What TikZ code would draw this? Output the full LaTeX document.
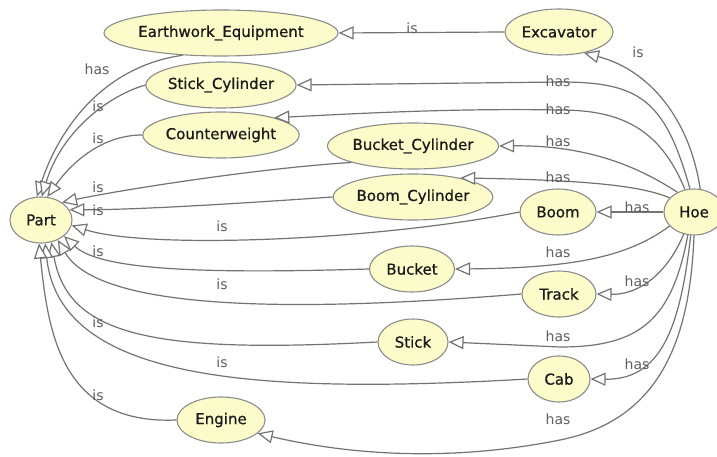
\documentclass[tikz,border=0pt]{standalone}
\usepackage{fontspec}
\setmainfont{DejaVu Sans}
\newfontfamily\clsfont[FakeBold=0.7]{DejaVu Sans}
\usetikzlibrary{arrows.meta,shapes.geometric}

\definecolor{classfill}{RGB}{252,252,202}
\definecolor{classline}{RGB}{140,140,140}
\definecolor{edgeline}{RGB}{115,115,115}
\definecolor{edgetext}{RGB}{95,95,95}

\tikzset{
  cls/.style={ellipse, draw=classline, line width=1.1pt, fill=classfill,
    inner sep=0pt, minimum height=46pt, text=black!90,
    font=\clsfont\fontsize{15pt}{17pt}\selectfont},
  rel/.style={draw=edgeline, line width=1.2pt,
    -{Triangle[length=15pt,width=13pt,fill=white]}},
  lbl/.style={text=edgetext, inner sep=0pt,
    font=\fontsize{14pt}{16pt}\selectfont},
}

\begin{document}
\begin{tikzpicture}[x=1pt,y=-1pt]
\useasboundingbox[fill=white] (0,0) rectangle (717,457);

% classes
\node[cls, minimum width=197pt] (ee)   at (221,33)  {Earthwork\_Equipment};
\node[cls, minimum width=108pt] (exc)  at (559,32)  {Excavator};
\node[cls, minimum width=142pt] (sc)   at (221,85)  {Stick\_Cylinder};
\node[cls, minimum width=142pt] (cw)   at (221,135) {Counterweight};
\node[cls, minimum width=156pt] (bc)   at (413,146) {Bucket\_Cylinder};
\node[cls, minimum width=150pt] (boc)  at (413,197) {Boom\_Cylinder};
\node[cls, minimum width=76pt]  (boom) at (558,212) {Boom};
\node[cls, minimum width=60pt]  (hoe)  at (694,212) {Hoe};
\node[cls, minimum width=62pt]  (part) at (41,220)  {Part};
\node[cls, minimum width=85pt]  (bkt)  at (412,269) {Bucket};
\node[cls, minimum width=74pt]  (trk)  at (559,294) {Track};
\node[cls, minimum width=70pt]  (stk)  at (413,342) {Stick};
\node[cls, minimum width=62pt]  (cab)  at (559,379) {Cab};
\node[cls, minimum width=88pt]  (eng)  at (221,420) {Engine};

% subclass links
\draw[rel] (exc.west) -- (ee.east);
\draw[rel] (hoe.75) .. controls (690,120) and (650,70) .. (exc.-40);

% links into Part
\draw[rel] (ee.-150) .. controls (95,68) and (55,140) .. (part.100);
\draw[rel] (sc.west) .. controls (110,95) and (62,130) .. (part.88);
\draw[rel] (cw.west) .. controls (100,135) and (70,165) .. (part.75);
\draw[rel] (bc.195) .. controls (260,168) and (120,190) .. (part.40);
\draw[rel] (boc.west) .. controls (260,202) and (140,210) .. (part.20);
\draw[rel] (boom.west) .. controls (380,240) and (150,250) .. (part.-10);
\draw[rel] (bkt.west) .. controls (200,274) and (100,270) .. (part.-35);
\draw[rel] (trk.west) .. controls (300,312) and (100,312) .. (part.-50);
\draw[rel] (stk.west) .. controls (150,354) and (68,335) .. (part.-65);
\draw[rel] (cab.west) .. controls (250,395) and (60,380) .. (part.-80);
\draw[rel] (eng.west) .. controls (60,425) and (48,330) .. (part.-95);

% links out of Hoe
\draw[rel] (hoe.100) .. controls (665,100) and (640,82) .. (560,82) -- (sc.east);
\draw[rel] (hoe.112) .. controls (660,128) and (620,110) .. (560,110)
  .. controls (450,108) and (350,114) .. (cw.18);
\draw[rel] (hoe.130) .. controls (640,168) and (590,145) .. (bc.east);
\draw[rel] (hoe.150) .. controls (640,185) and (580,180) .. (boc.22);
\draw[rel] (hoe.west) -- (boom.east);
\draw[rel] (hoe.210) .. controls (630,255) and (580,268) .. (bkt.east);
\draw[rel] (hoe.245) .. controls (668,272) and (640,295) .. (trk.east);
\draw[rel] (hoe.255) .. controls (672,320) and (640,347) .. (560,347) -- (stk.east);
\draw[rel] (hoe.262) .. controls (680,330) and (660,380) .. (cab.east);
\draw[rel] (hoe.270) .. controls (690,340) and (660,420) .. (560,440)
  .. controls (450,462) and (350,455) .. (eng.-20);

% link labels
\node[lbl] (l01) at (412,28)  {is};
\node[lbl] (l02) at (638,52)  {is};
\node[lbl] (l03) at (97,69)   {has};
\node[lbl] (l04) at (98,106)  {is};
\node[lbl] (l05) at (98,138)  {is};
\node[lbl] (l06) at (98,187)  {is};
\node[lbl] (l07) at (98,210)  {is};
\node[lbl] (l08) at (222,226) {is};
\node[lbl] (l09) at (98,251)  {is};
\node[lbl] (l10) at (222,284) {is};
\node[lbl] (l11) at (98,322)  {is};
\node[lbl] (l12) at (222,362) {is};
\node[lbl] (l13) at (98,395)  {is};
\node[lbl] (l14) at (558,81)  {has};
\node[lbl] (l15) at (558,109) {has};
\node[lbl] (l16) at (558,141) {has};
\node[lbl] (l17) at (558,177) {has};
\node[lbl] (l18) at (637,207) {has};
\node[lbl] (l19) at (558,252) {has};
\node[lbl] (l20) at (637,281) {has};
\node[lbl] (l21) at (558,336) {has};
\node[lbl] (l22) at (637,364) {has};
\node[lbl] (l23) at (558,419) {has};
\end{tikzpicture}
\end{document}
